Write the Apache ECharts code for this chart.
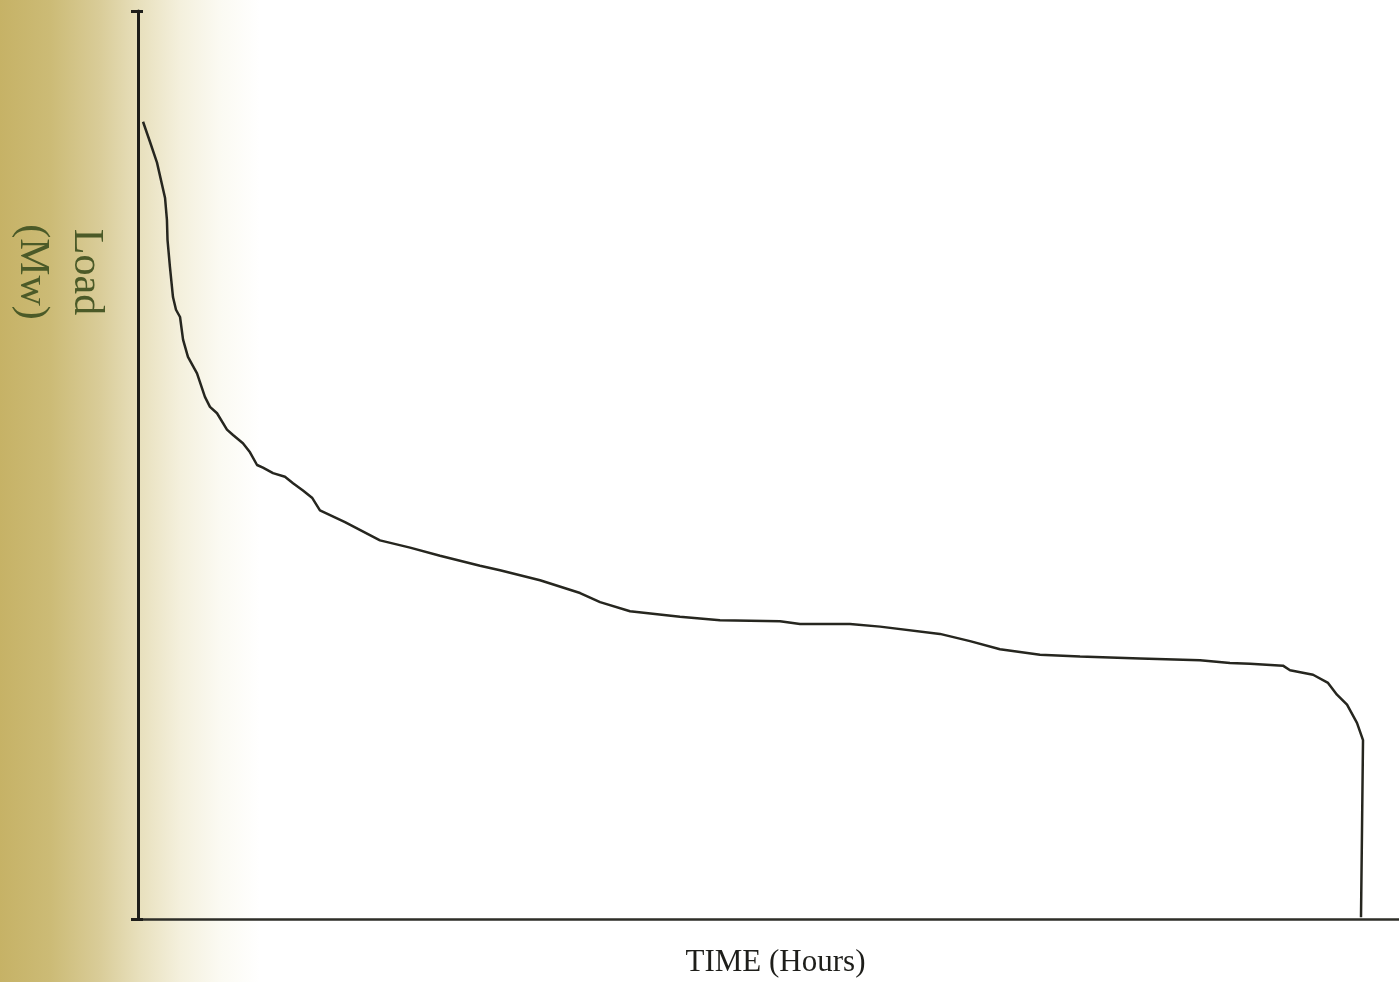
<!DOCTYPE html>
<html>
<head>
<meta charset="utf-8">
<script src="https://cdn.jsdelivr.net/npm/echarts@6/dist/echarts.min.js"></script>
<style>
html,body{margin:0;padding:0;background:#fff;}
#chart{width:1399px;height:982px;}
</style>
</head>
<body>
<div id="chart"></div>
<script>
// Time in hours, load in MW (arbitrary scale, 0..1000)
const hours = [35, 83, 132, 188, 201, 205, 222, 243, 264, 292, 313, 347, 410, 465, 500, 549, 618, 660, 729, 778, 827, 868, 938, 1021, 1077, 1146, 1209, 1264, 1438, 1681, 1890, 2098, 2376, 2515, 2793, 3071, 3210, 3418, 3765, 4043, 4460, 4599, 4946, 5155, 5571, 5780, 5988, 6266, 6544, 6961, 7378, 7586, 7725, 7954, 8003, 8163, 8267, 8329, 8399, 8468, 8510, 8503, 8496];
const loadMW = [878, 856, 833, 794, 770, 748, 718, 685, 671, 663, 638, 619, 601, 575, 564, 557, 539, 533, 524, 514, 500, 497, 491, 487, 480, 472, 464, 450, 437, 417, 409, 400, 389, 384, 373, 359, 349, 339, 333, 329, 328, 325, 325, 322, 314, 306, 297, 291, 289, 287, 285, 282, 281, 279, 274, 269, 260, 247, 236, 216, 197, 98, 2];
const xTitle = 'TIME (Hours)';
const yTitle = 'Load\n(Mw)';
const xMax = 8760;
const yMax = 1000;

const curve = hours.map((h, i) => [h, loadMW[i]]);

const chart = echarts.init(document.getElementById('chart'));
chart.setOption({
  animation: false,
  backgroundColor: new echarts.graphic.LinearGradient(0, 0, 1, 0, [
    {offset: 0.0, color: '#c6b266'},
    {offset: 0.036, color: '#ccbb76'},
    {offset: 0.071, color: '#d9cc98'},
    {offset: 0.1, color: '#e8e0bd'},
    {offset: 0.129, color: '#f4f0dd'},
    {offset: 0.157, color: '#fbfaf2'},
    {offset: 0.186, color: '#ffffff'},
    {offset: 1, color: '#ffffff'}
  ]),
  grid: {left: 138, right: 0, top: 11, bottom: 63, containLabel: false, outerBoundsMode: 'none'},
  xAxis: {
    type: 'value', min: 0, max: xMax,
    name: xTitle, nameLocation: 'middle', nameGap: 28,
    nameTextStyle: {fontFamily: 'Liberation Serif', fontSize: 31, color: '#1e1e1a', padding: [0, 0, 0, 14]},
    axisLine: {show: true, onZero: false, lineStyle: {color: '#2e2e28', width: 2.5}},
    axisTick: {show: false}, axisLabel: {show: false}, splitLine: {show: false}
  },
  yAxis: [{
    type: 'value', min: 0, max: yMax, interval: yMax,
    name: yTitle, nameLocation: 'middle', nameRotate: -90, nameGap: 25,
    nameTextStyle: {fontFamily: 'Liberation Serif', fontSize: 42, lineHeight: 54, color: '#4b5a28',
      padding: [0, 386, 0, 0]},
    axisLine: {show: true, lineStyle: {color: '#1e1e1a', width: 3}},
    axisTick: {show: true, inside: false, length: 7, lineStyle: {color: '#1e1e1a', width: 3}},
    axisLabel: {show: false}, splitLine: {show: false}
  }, {
    type: 'value', min: 0, max: yMax, interval: yMax, position: 'left',
    axisLine: {show: false},
    axisTick: {show: true, inside: true, length: 5, lineStyle: {color: '#1e1e1a', width: 3}},
    axisLabel: {show: false}, splitLine: {show: false}
  }],
  series: [{
    type: 'line', data: curve, yAxisIndex: 0, showSymbol: false, symbol: 'none', smooth: false,
    lineStyle: {color: '#26261f', width: 2.5}
  }]
});
</script>
</body>
</html>
